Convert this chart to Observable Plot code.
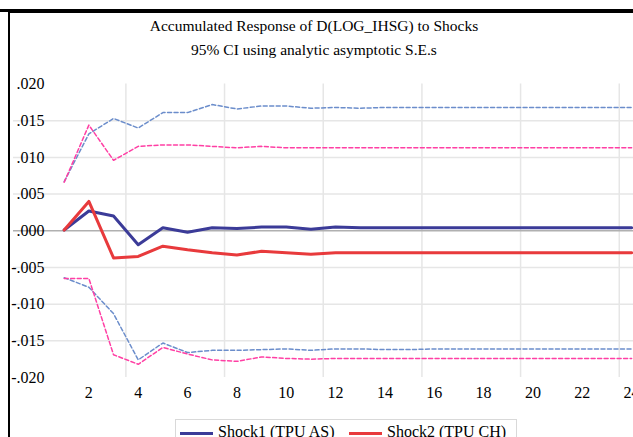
<!DOCTYPE html>
<html>
<head>
<meta charset="utf-8">
<script src="https://cdn.jsdelivr.net/npm/d3@7"></script>
<script src="https://cdn.jsdelivr.net/npm/@observablehq/plot@0.6"></script>
<style>
  html, body { margin: 0; padding: 0; background: #fff; }
  #wrap { position: relative; width: 633px; height: 437px; overflow: hidden; background: #fff; font-family: "Liberation Serif", "Times New Roman", serif; color: #000; }
  #topbar { position: absolute; left: 0; top: 9px; width: 633px; height: 3px; background: #000; }
  #box { position: absolute; left: 8px; top: 12px; width: 640px; height: 440px; border-left: 2px solid #000; border-top: 1px solid #000; box-sizing: border-box; }
  #title { position: absolute; left: 0; top: 14px; width: 628px; text-align: center; font-size: 15.5px; line-height: 23.5px; }
  #chart { position: absolute; left: 0; top: 62px; }
  #legend { position: absolute; left: 175px; top: 419px; width: 342px; height: 30px; border: 1px solid #d9d9d9; box-sizing: border-box; }
  .sw { position: absolute; height: 3px; top: 12px; }
  .lt { position: absolute; top: 2px; font-size: 16px; line-height: 20px; white-space: nowrap; }
</style>
</head>
<body>
<div id="wrap">
  <div id="topbar"></div>
  <div id="box"></div>
  <div id="title">Accumulated Response of D(LOG_IHSG) to Shocks<br>95% CI using analytic asymptotic S.E.s</div>
  <div id="chart"></div>
  <div id="legend">
    <div class="sw" style="left:4px;width:33px;background:#3b3b98"></div>
    <div class="lt" style="left:42px">Shock1 (TPU AS)</div>
    <div class="sw" style="left:173px;width:33px;background:#e83a3c"></div>
    <div class="lt" style="left:211px">Shock2 (TPU CH)</div>
  </div>
</div>
<script>
// ---- data ----
const periods = [1,2,3,4,5,6,7,8,9,10,11,12,13,14,15,16,17,18,19,20,21,22,23,24];

const shock1 = [0.0001,0.0027,0.0020,-0.0019,0.0004,-0.0002,0.0004,0.0003,0.0005,0.0005,0.0002,0.0005,
                0.0004,0.0004,0.0004,0.0004,0.0004,0.0004,0.0004,0.0004,0.0004,0.0004,0.0004,0.0004];
const shock1Upper = [0.0067,0.0132,0.0153,0.0140,0.0161,0.0161,0.0172,0.0166,0.0170,0.0170,0.0167,0.0168,
                     0.0167,0.0168,0.0168,0.0168,0.0168,0.0168,0.0168,0.0168,0.0168,0.0168,0.0168,0.0168];
const shock1Lower = [-0.0064,-0.0077,-0.0113,-0.0176,-0.0153,-0.0166,-0.0163,-0.0163,-0.0162,-0.0161,-0.0163,-0.0161,
                     -0.0161,-0.0162,-0.0162,-0.0161,-0.0161,-0.0161,-0.0161,-0.0161,-0.0161,-0.0161,-0.0161,-0.0161];

const shock2 = [0.0001,0.0040,-0.0037,-0.0035,-0.0021,-0.0026,-0.0030,-0.0033,-0.0028,-0.0030,-0.0032,-0.0030,
                -0.0030,-0.0030,-0.0030,-0.0030,-0.0030,-0.0030,-0.0030,-0.0030,-0.0030,-0.0030,-0.0030,-0.0030];
const shock2Upper = [0.0066,0.0144,0.0096,0.0115,0.0117,0.0117,0.0115,0.0113,0.0115,0.0113,0.0113,0.0113,
                     0.0113,0.0113,0.0113,0.0113,0.0113,0.0113,0.0113,0.0113,0.0113,0.0113,0.0113,0.0113];
const shock2Lower = [-0.0065,-0.0065,-0.0169,-0.0182,-0.0159,-0.0168,-0.0176,-0.0178,-0.0172,-0.0174,-0.0175,-0.0174,
                     -0.0174,-0.0174,-0.0174,-0.0174,-0.0174,-0.0174,-0.0174,-0.0174,-0.0174,-0.0174,-0.0174,-0.0174];

const yTicks = [-0.020,-0.015,-0.010,-0.005,0.000,0.005,0.010,0.015,0.020];
const xTicks = [2,4,6,8,10,12,14,16,18,20,22,24];
const gridY = [-0.015,-0.010,-0.005,0.005,0.010,0.015];
const gridX = [3.5,7.5,11.5,15.5,19.5,23.5];

// ---- build ----
const toRows = (vals) => periods.map((p, i) => ({period: p, value: vals[i]}));
const fmt = (d) => (d < 0 ? "-" : "") + Math.abs(d).toFixed(3).replace(/^0/, "");

const dashed = {strokeWidth: 1.5, strokeDasharray: "4,2.5"};

const chart = Plot.plot({
  width: 633,
  height: 375,
  marginLeft: 13,
  marginRight: 0,
  marginTop: 21.5,
  marginBottom: 60,
  x: {domain: [-1.055, 24.077]},
  y: {domain: [-0.02, 0.02]},
  style: {background: "transparent", fontFamily: "'Liberation Serif', 'Times New Roman', serif", fontSize: "16px", color: "#000", overflow: "visible"},
  marks: [
    Plot.ruleY(gridY, {stroke: "#e6e6e6", strokeWidth: 1.5}),
    Plot.ruleX(gridX, {stroke: "#e6e6e6", strokeWidth: 1.5}),
    Plot.ruleY([0], {stroke: "#b0b0b0", strokeWidth: 1.5}),
    Plot.axisY(yTicks, {anchor: "left", tickSize: 0, tickPadding: 0, dx: 31, tickFormat: fmt, fontSize: 16, label: null}),
    Plot.axisX(xTicks, {anchor: "bottom", tickSize: 0, tickPadding: 9, fontSize: 16, label: null}),
    Plot.line(toRows(shock1Upper), {x: "period", y: "value", stroke: "#6b8dcb", ...dashed}),
    Plot.line(toRows(shock1Lower), {x: "period", y: "value", stroke: "#6b8dcb", ...dashed}),
    Plot.line(toRows(shock2Upper), {x: "period", y: "value", stroke: "#ff3fa4", ...dashed}),
    Plot.line(toRows(shock2Lower), {x: "period", y: "value", stroke: "#ff3fa4", ...dashed}),
    Plot.line(toRows(shock1), {x: "period", y: "value", stroke: "#3b3b98", strokeWidth: 3}),
    Plot.line(toRows(shock2), {x: "period", y: "value", stroke: "#e83a3c", strokeWidth: 3})
  ]
});
document.getElementById("chart").appendChild(chart);
</script>
</body>
</html>
